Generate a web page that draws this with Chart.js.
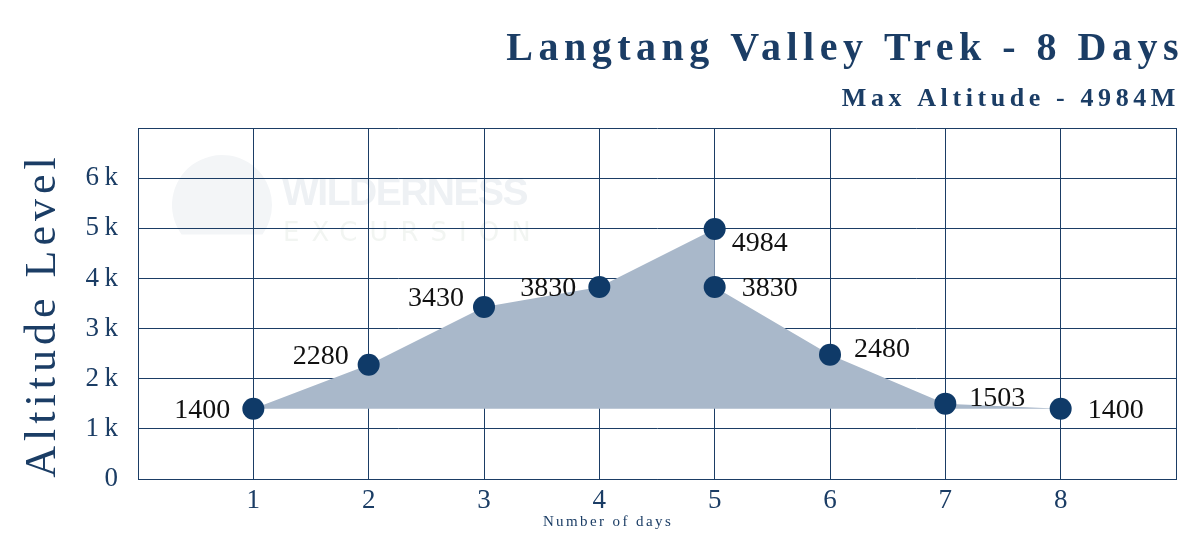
<!DOCTYPE html>
<html>
<head>
<meta charset="utf-8">
<script src="https://cdn.jsdelivr.net/npm/chart.js@4"></script>
<style>
  html, body { margin: 0; padding: 0; background: #fff; }
  #wrap { width: 1200px; height: 556px; position: relative; }
</style>
</head>
<body>
<div id="wrap"><canvas id="chart" width="1200" height="556"></canvas></div>
<script>
// trek data
const days = [1, 2, 3, 4, 5, 5, 6, 7, 8];
const altitudes = [1400, 2280, 3430, 3830, 4984, 3830, 2480, 1503, 1400];
const xTicks = [1, 2, 3, 4, 5, 6, 7, 8];
const yTickLabels = ['0', '1\u2009k', '2\u2009k', '3\u2009k', '4\u2009k', '5\u2009k', '6\u2009k'];
const chartTitle = 'Langtang Valley Trek - 8 Days';
const chartSubtitle = 'Max Altitude - 4984M';
const yTitle = 'Altitude Level';
const xTitle = 'Number of days';
// where each value label sits next to its point
const labelSide = ['left', 'left-high', 'left-high', 'left', 'right-low', 'right', 'right-high', 'right-high', 'right'];

const NAVY = '#1b3d65';
const SERIF = '"Liberation Serif", "DejaVu Serif", serif';

const points = days.map((d, i) => ({x: d, y: altitudes[i]}));

const textPlugin = {
    id: 'texts',
    beforeDraw(chart) {
        // faint watermark
        const ctx = chart.ctx;
        ctx.save();
        ctx.fillStyle = '#f3f5f7';
        ctx.beginPath();
        ctx.arc(222, 205, 50, Math.PI * 0.8, Math.PI * 2.2);
        ctx.closePath();
        ctx.fill();
        ctx.font = 'bold 39px "Liberation Sans", sans-serif';
        ctx.fillStyle = '#eef1f4';
        ctx.textBaseline = 'middle';
        ctx.letterSpacing = '-1.5px';
        ctx.fillText('WILDERNESS', 282, 194);
        ctx.font = '26px "DejaVu Sans", sans-serif';
        ctx.fillStyle = '#f2f5f2';
        ctx.letterSpacing = '12px';
        ctx.fillText('EXCURSION', 283, 234);
        ctx.restore();
    },
    afterDraw(chart) {
        const ctx = chart.ctx;
        ctx.save();
        ctx.fillStyle = NAVY;
        ctx.textBaseline = 'alphabetic';
        ctx.textAlign = 'right';
        ctx.font = 'bold 40px ' + SERIF;
        ctx.letterSpacing = '5.5px';
        ctx.fillText(chartTitle, 1184, 60);
        ctx.font = 'bold 26px ' + SERIF;
        ctx.letterSpacing = '4.6px';
        ctx.fillText(chartSubtitle, 1180, 106);

        ctx.font = '15px ' + SERIF;
        ctx.letterSpacing = '2.4px';
        ctx.textAlign = 'center';
        ctx.fillText(xTitle, 608, 526);

        ctx.translate(55, 315);
        ctx.rotate(-Math.PI / 2);
        ctx.font = '44px ' + SERIF;
        ctx.letterSpacing = '5px';
        ctx.fillText(yTitle, 0, 0);
        ctx.restore();
    },
    afterDatasetsDraw(chart) {
        const ctx = chart.ctx;
        const meta = chart.getDatasetMeta(1);
        ctx.save();
        ctx.fillStyle = '#111';
        ctx.font = '28px ' + SERIF;
        ctx.textBaseline = 'middle';
        meta.data.forEach((pt, i) => {
            const side = labelSide[i];
            let dx = 0, dy = 0;
            if (side === 'left') { ctx.textAlign = 'right'; dx = -23; dy = 2; }
            else if (side === 'left-high') { ctx.textAlign = 'right'; dx = -20; dy = -8; }
            else if (side === 'right') { ctx.textAlign = 'left'; dx = 27; dy = 2; }
            else if (side === 'right-low') { ctx.textAlign = 'left'; dx = 17; dy = 15; }
            else { ctx.textAlign = 'left'; dx = 24; dy = -5; }
            ctx.fillText(String(altitudes[i]), pt.x + dx, pt.y + dy);
        });
        ctx.restore();
    }
};

const ctx = document.getElementById('chart').getContext('2d');
const myChart = new Chart(ctx, {
    data: {
        datasets: [
            {
                type: 'line',
                data: points,
                fill: {value: 1400},
                backgroundColor: '#a9b8ca',
                borderWidth: 0,
                pointRadius: 0,
                tension: 0,
                order: 2
            },
            {
                type: 'scatter',
                data: points,
                pointRadius: 11,
                pointHoverRadius: 11,
                backgroundColor: '#0f3a68',
                borderWidth: 0,
                order: 1
            }
        ]
    },
    plugins: [textPlugin],
    options: {
        responsive: false,
        animation: false,
        layout: {
            padding: {top: 128, right: 24, left: 0, bottom: 0}
        },
        scales: {
            x: {
                type: 'linear',
                min: 0,
                max: 9,
                afterFit: (scale) => { scale.height = 77; },
                afterBuildTicks: (scale) => {
                    scale.ticks = [0].concat(xTicks, [9]).map(v => ({value: v}));
                },
                grid: {
                    color: NAVY,
                    lineWidth: 1,
                    drawTicks: false
                },
                border: {color: NAVY},
                ticks: {
                    padding: 6,
                    color: NAVY,
                    font: {family: SERIF, size: 27},
                    callback: (v) => xTicks.includes(v) ? String(v) : ''
                }
            },
            y: {
                min: 0,
                max: 7000,
                afterFit: (scale) => { scale.width = 138; },
                grid: {
                    color: NAVY,
                    lineWidth: 1,
                    drawTicks: false
                },
                border: {color: NAVY},
                ticks: {
                    stepSize: 1000,
                    padding: 20,
                    color: NAVY,
                    font: {family: SERIF, size: 27},
                    callback: (v) => {
                        const idx = Math.round(v / 1000);
                        return yTickLabels[idx] !== undefined ? yTickLabels[idx] : '';
                    }
                }
            }
        },
        plugins: {
            legend: {display: false},
            tooltip: {enabled: false}
        }
    }
});
</script>
</body>
</html>
